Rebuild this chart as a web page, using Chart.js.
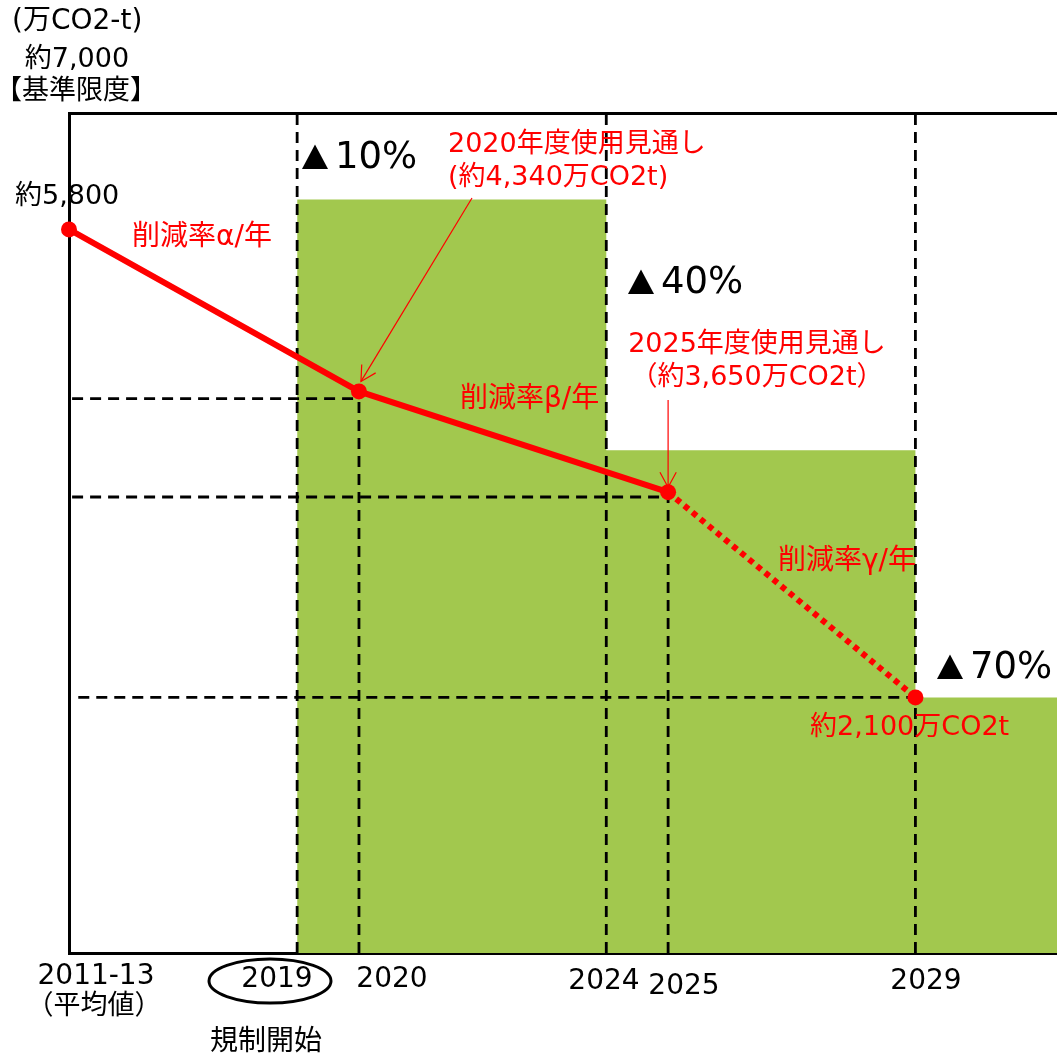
<!DOCTYPE html>
<html><head><meta charset="utf-8">
<script src="https://cdn.jsdelivr.net/npm/chart.js@4.4.1/dist/chart.umd.min.js"></script>
<style>html,body{margin:0;padding:0;background:#fff;overflow:hidden}#wrap{width:1057px;height:1056px;position:relative}</style>
</head><body><div id="wrap"><canvas id="c"></canvas></div>
<script>
// ---- data (schematic chart, unit: 万CO2-t) ----
const periodLabels = ['2011-13', '2019', '2020', '2024', '2025', '2029'];
const periodX = [2015.31, 2019, 2020, 2024, 2025, 2029];
const usageX = [2015.31, 2020, 2025, 2029];
const usageValues = [6030, 4680, 3840, 2130];
const limitX = [2019, 2024, 2029, 2031.29];
const limitValues = [6280, 4190, 2130, 2130];
const reductionLabels = ['10%', '40%', '70%'];
const guideLevels = [4620, 3800, 2130];
const baseLimit = 7000;

const xMin = 2015.31, xMax = 2031.29;
const GREEN = '#A2C84E', RED = '#FF0000';
const FONT = '"DejaVu Sans", "Noto Sans CJK JP", sans-serif';

function pts(xs, ys) { return xs.map((x, i) => ({x: x, y: ys[i]})); }
function guide(a, b) {
  return {type: 'line', data: [a, b], borderColor: '#000', borderWidth: 2.8, borderDash: [11, 7],
    pointRadius: 0, fill: false, clip: false, order: 1, xAxisID: 'x', yAxisID: 'y'};
}

const datasets = [
  {type: 'line', label: '使用見通し', data: pts(usageX, usageValues), borderColor: RED, borderWidth: 6,
   pointRadius: 8, pointBackgroundColor: RED, pointBorderWidth: 0, fill: false, clip: false, order: 0,
   borderCapStyle: 'butt',
   segment: {borderDash: ctx => ctx.p0DataIndex === 2 ? [5.5, 5] : undefined},
   xAxisID: 'x', yAxisID: 'y'},
  // vertical guides
  guide({x: periodX[1], y: 0}, {x: periodX[1], y: baseLimit}),
  guide({x: periodX[3], y: 0}, {x: periodX[3], y: baseLimit}),
  guide({x: periodX[5], y: 0}, {x: periodX[5], y: baseLimit}),
  guide({x: periodX[2], y: 0}, {x: periodX[2], y: guideLevels[0]}),
  guide({x: periodX[4], y: 0}, {x: periodX[4], y: guideLevels[1]}),
  // horizontal guides
  guide({x: xMin + 0.05, y: guideLevels[0]}, {x: periodX[2], y: guideLevels[0]}),
  guide({x: xMin + 0.05, y: guideLevels[1]}, {x: periodX[4], y: guideLevels[1]}),
  guide({x: xMin + 0.15, y: guideLevels[2]}, {x: periodX[5], y: guideLevels[2]}),
  // limit steps (green)
  {type: 'line', label: '基準限度', data: pts(limitX, limitValues), stepped: 'before', borderWidth: 0,
   borderColor: GREEN, backgroundColor: GREEN, fill: 'origin', pointRadius: 0, clip: false, order: 2,
   xAxisID: 'x', yAxisID: 'y'}
];

function txt(ctx, s, x, y, size, color, align) {
  ctx.font = size + 'px ' + FONT;
  ctx.fillStyle = color;
  ctx.textAlign = align || 'left';
  ctx.textBaseline = 'middle';
  ctx.fillText(s, x, y);
}
function tri(ctx, x, y) { // black ▲ glyph, x = left, y = centre
  ctx.beginPath();
  ctx.moveTo(x, y + 12); ctx.lineTo(x + 26, y + 12); ctx.lineTo(x + 13, y - 12.5); ctx.closePath();
  ctx.fillStyle = '#000'; ctx.fill();
}
function arrow(ctx, x1, y1, x2, y2) {
  ctx.save();
  ctx.strokeStyle = RED; ctx.lineWidth = 1.2;
  ctx.beginPath(); ctx.moveTo(x1, y1); ctx.lineTo(x2, y2); ctx.stroke();
  const a = Math.atan2(y1 - y2, x1 - x2), L = 17, w = 0.5;
  ctx.beginPath();
  ctx.moveTo(x2 + L * Math.cos(a + w), y2 + L * Math.sin(a + w));
  ctx.lineTo(x2, y2);
  ctx.lineTo(x2 + L * Math.cos(a - w), y2 + L * Math.sin(a - w));
  ctx.stroke();
  ctx.restore();
}

const annot = {
  id: 'annot',
  afterDraw(chart) {
    const ctx = chart.ctx, xs = chart.scales.x, ys = chart.scales.y;
    const px = v => xs.getPixelForValue(v), py = v => ys.getPixelForValue(v);
    ctx.save();
    // header
    txt(ctx, '(万CO2-t)', 12, 22, 28, '#000');
    txt(ctx, '約7,000', 77, 60, 27, '#000', 'center');
    txt(ctx, '【基準限度】', 76, 92, 27, '#000', 'center');
    txt(ctx, '約5,800', 15, 197, 27, '#000');
    // reduction labels (▲ + percentage)
    const rl = [[302, 157], [628, 282], [937, 667]];
    rl.forEach((p, i) => { tri(ctx, p[0], p[1]); txt(ctx, reductionLabels[i], p[0] + 33, p[1] + 1, 37, '#000'); });
    // red labels
    txt(ctx, '削減率α/年', 132, 238, 28, RED);
    txt(ctx, '削減率β/年', 460, 400, 28, RED);
    txt(ctx, '削減率γ/年', 778, 562, 28, RED);
    txt(ctx, '2020年度使用見通し', 448, 145, 27, RED);
    txt(ctx, '(約4,340万CO2t)', 448, 178, 27, RED);
    txt(ctx, '2025年度使用見通し', 757, 345, 27, RED, 'center');
    txt(ctx, '（約3,650万CO2t）', 757, 378, 27, RED, 'center');
    txt(ctx, '約2,100万CO2t', 810, 728, 27, RED);
    // arrows to points
    arrow(ctx, 472, 198, px(usageX[1]) + 2, py(usageValues[1]) - 10);
    arrow(ctx, px(usageX[2]), 400, px(usageX[2]), py(usageValues[2]) - 5);
    // x labels
    const lx = [96, 277, 392, 604, 684, 926];
    const ly = [977, 980, 980, 982, 987, 982];
    periodLabels.forEach((s, i) => txt(ctx, s, lx[i], ly[i], 28, '#000', 'center'));
    txt(ctx, '（平均値）', 94, 1007, 27, '#000', 'center');
    txt(ctx, '規制開始', 266, 1043, 28, '#000', 'center');
    ctx.beginPath();
    ctx.ellipse(270, 981, 61, 22, 0, 0, Math.PI * 2);
    ctx.lineWidth = 3; ctx.strokeStyle = '#000'; ctx.stroke();
    ctx.restore();
  }
};

const hidden = {grid: {display: false, drawTicks: false, tickLength: 0}, ticks: {display: false},
                border: {display: true, color: '#000', width: 3}};
new Chart(document.getElementById('c'), {
  type: 'line',
  data: {datasets: datasets},
  options: {
    responsive: true, maintainAspectRatio: false, animation: false,
    layout: {autoPadding: false, padding: {left: 69, top: 113, right: 0, bottom: 103}},
    plugins: {legend: {display: false}, tooltip: {enabled: false}},
    scales: {
      x: Object.assign({type: 'linear', min: xMin, max: xMax, position: 'bottom'}, hidden),
      xTop: Object.assign({type: 'linear', min: xMin, max: xMax, position: 'top'}, hidden),
      y: Object.assign({type: 'linear', min: 0, max: baseLimit, position: 'left'}, hidden)
    }
  },
  plugins: [annot]
});
</script></body></html>
